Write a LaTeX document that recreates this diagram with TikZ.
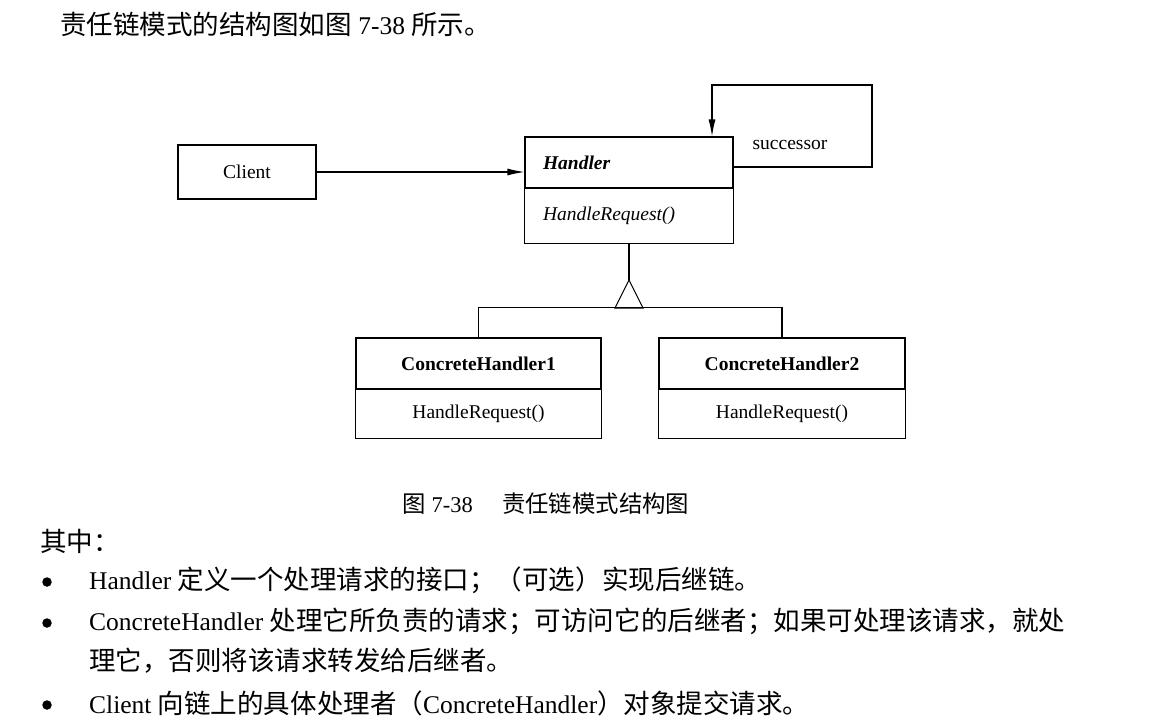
\documentclass[tikz,border=0pt]{standalone}
\usepackage{fontspec}
\setmainfont{Liberation Serif}
\newfontfamily\cjk[Scale=1.04]{Noto Sans CJK SC}
\usetikzlibrary{arrows.meta,positioning}

\tikzset{
  cls/.style={draw, line width=1.1pt, inner sep=0pt, font=\fontsize{19.5}{23}\selectfont},
  ops/.style={cls, draw=none},
  link/.style={line width=1.1pt},
  flow/.style={line width=1.1pt, -{Latex[length=17pt,width=7pt]}},
  para/.style={anchor=west, inner sep=0pt, font=\fontsize{25.5}{30}\selectfont},
  dot/.style={circle, fill, inner sep=0pt, minimum width=9.5pt}
}

\begin{document}
\begin{tikzpicture}[x=1pt,y=-1pt]
\useasboundingbox[fill=white] (0,0) rectangle (1149,728);

\node[para] (intro) at (60,24) {{\cjk 责任链模式的结构图如图} 7-38 {\cjk 所示。}};

\node[cls, minimum width=138, minimum height=54] (client) at (247,172) {Client};
\node[cls, minimum width=208, minimum height=51, text width=172, align=left] (hname) at (629,162.5) {\textbf{\textit{Handler}}};
\node[ops, minimum width=208, minimum height=54, text width=172, align=left, below=0pt of hname] (hop) {\textit{HandleRequest()}};
\draw[link] (hname.south west) |- (hop.south east) -- (hname.south east);

\node[cls, minimum width=245, minimum height=51] (ch1) at (478.5,363.5) {\textbf{ConcreteHandler1}};
\node[ops, minimum width=245, minimum height=48, below=0pt of ch1] (ch1op) {HandleRequest()};
\draw[link] (ch1.south west) |- (ch1op.south east) -- (ch1.south east);
\node[cls, minimum width=246, minimum height=51] (ch2) at (782,363.5) {\textbf{ConcreteHandler2}};
\node[ops, minimum width=246, minimum height=48, below=0pt of ch2] (ch2op) {HandleRequest()};
\draw[link] (ch2.south west) |- (ch2op.south east) -- (ch2.south east);

\draw[flow] (client) -- (client -| hname.west);
\draw[flow] ([yshift=-4.5pt]hname.east) -| (872,85) -| ([xshift=83pt]hname.north);
\node[ops] (succ) at (790,145) {successor};

\coordinate (apex) at (629,280);
\draw[link] (hop.south) -- (apex);
\draw[link] (apex) -- ++(-14,28) -- ++(28,0) -- cycle;
\draw[link] (ch1.north) -- ++(0,-30) -| (ch2.north);

\node[para, anchor=center, font=\fontsize{22.5}{26}\selectfont] (caption) at (546,504) {{\cjk 图} 7-38\hspace{1.3em}{\cjk 责任链模式结构图}};

\node[para] (among) at (40,541) {{\cjk 其中：}};
\foreach \y/\n in {582/b1, 623/b2, 705/b4}
  \node[dot] (\n) at (47,\y) {};
\node[para] (l1) at (89,580) {Handler {\cjk 定义一个处理请求的接口；（可选）实现后继链。}};
\node[para] (l2) at (89,621) {ConcreteHandler {\cjk 处理它所负责的请求；可访问它的后继者；如果可处理该请求，就处}};
\node[para] (l3) at (89,661) {{\cjk 理它，否则将该请求转发给后继者。}};
\node[para] (l4) at (89,703) {Client {\cjk 向链上的具体处理者（}ConcreteHandler{\cjk ）对象提交请求。}};
\end{tikzpicture}
\end{document}
